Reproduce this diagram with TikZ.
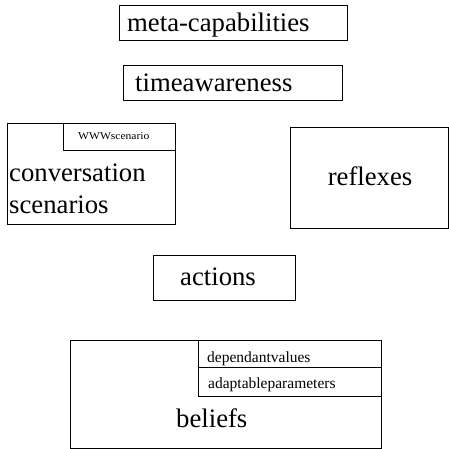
\documentclass[tikz,border=0pt]{standalone}
\usepackage{fontspec}
\setmainfont{Liberation Serif}
\begin{document}
\begin{tikzpicture}[x=1pt,y=-1pt,
  box/.style={draw, line width=1pt, inner sep=0pt, anchor=north west},
  big/.style={inner sep=0pt, anchor=base west, font=\fontsize{26.7}{30}\selectfont},
  small/.style={inner sep=0pt, anchor=base west, font=\fontsize{15.5}{17}\selectfont},
  tiny/.style={inner sep=0pt, anchor=base west, font=\fontsize{10}{12}\selectfont}]
\useasboundingbox (0,0) rectangle (449,449);
% meta-capabilities
\node[box, minimum width=228pt, minimum height=35pt] (meta) at (119,5) {};
\node[big] (metat) at (127,32) {meta-capabilities};
% timeawareness
\node[box, minimum width=219pt, minimum height=35pt] (time) at (123,65) {};
\node[big] (timet) at (135,92) {timeawareness};
% conversation scenarios
\node[box, minimum width=168pt, minimum height=101pt] (conv) at (7,123) {};
\node[box, minimum width=112pt, minimum height=27pt] (www) at (63,123) {};
\node[tiny, font=\fontsize{10.5}{12}\selectfont, xscale=1.1] (wwwt) at (78,140) {WWWscenario};
\node[big] (convt1) at (9,182) {conversation};
\node[big] (convt2) at (9,213) {scenarios};
% reflexes
\node[box, minimum width=158pt, minimum height=101pt] (refl) at (290,127) {};
\node[big, anchor=base] (reflt) at (370,185) {reflexes};
% actions
\node[box, minimum width=142pt, minimum height=45pt] (act) at (153,255) {};
\node[big] (actt) at (180,285) {actions};
% beliefs
\node[box, minimum width=311pt, minimum height=108pt] (bel) at (70,340) {};
\node[box, minimum width=183pt, minimum height=27pt] (dep) at (198,340) {};
\node[box, minimum width=183pt, minimum height=29pt] (adp) at (198,367) {};
\node[small] (dept) at (207,362) {dependantvalues};
\node[small] (adpt) at (208,388) {adaptableparameters};
\node[big] (belt) at (176,427) {beliefs};
\end{tikzpicture}
\end{document}
